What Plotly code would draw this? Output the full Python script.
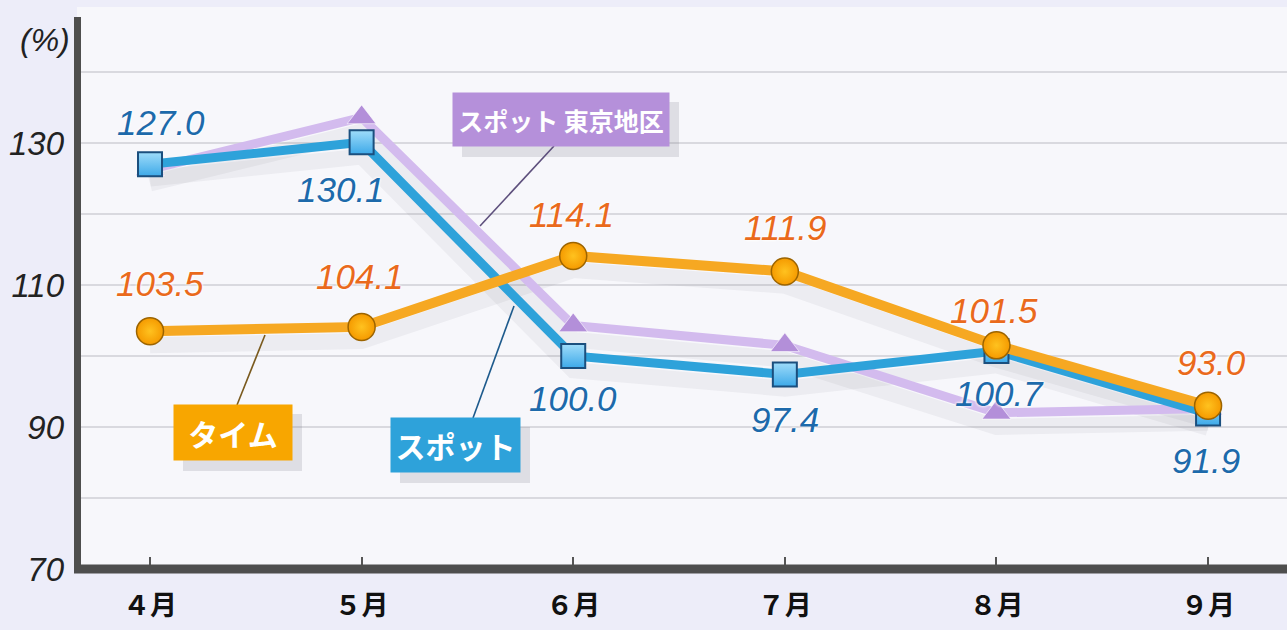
import plotly.graph_objects as go

# ---------------- data ----------------
months = ["４月", "５月", "６月", "７月", "８月", "９月"]
spot = [127.0, 130.1, 100.0, 97.4, 100.7, 91.9]
time_ = [103.5, 104.1, 114.1, 111.9, 101.5, 93.0]
spot_tokyo = [126.3, 133.6, 104.3, 101.5, 92.0, 92.6]

y_tickvals = [70, 80, 90, 100, 110, 120, 130, 140]
y_ticktext = ["70", "", "90", "", "110", "", "130", ""]

# label vertical offsets (px) relative to each point
spot_label_shift = [42, -47, -42, -45, -42, -47]
spot_label_xshift = [11, -21, 0, 0, 3, -2]
time_label_shift = [48, 50, 41, 44, 35, 43]
time_label_xshift = [10, -2, -2, 0, -2, 3]

# ---------------- colours / fonts ----------------
C_SPOT = "#2ea2da"
C_TIME = "#f6a822"
C_TOKYO = "#d3bbee"
C_TRI = "#b38fd9"
LBL_SPOT = "#1d6aab"
LBL_TIME = "#ea6a1c"
NUM_FONT = "Liberation Sans, Arial, sans-serif"
JP_FONT = "Noto Sans CJK JP, sans-serif"

# pixel helpers for layout decoration (plot area: x 77..1287, y 7..569)
def px(x):
    return (x - 77) / 1210.0

def py(y):
    return (569 - y) / 562.0

fig = go.Figure()

# soft drop shadows under the lines
for series in (spot_tokyo, spot, time_):
    fig.add_trace(go.Scatter(
        x=months, y=[v - 2.0 for v in series], mode="lines",
        line=dict(color="rgba(60,60,80,0.06)", width=16),
        hoverinfo="skip", showlegend=False))

fig.add_trace(go.Scatter(
    x=months, y=spot_tokyo, mode="lines+markers", name="スポット 東京地区",
    line=dict(color=C_TOKYO, width=9),
    marker=dict(symbol="triangle-up", size=25, color=C_TRI,
                line=dict(color="rgba(255,255,255,0.6)", width=1)),
    showlegend=False))

fig.add_trace(go.Scatter(
    x=months, y=spot, mode="lines+markers", name="スポット",
    line=dict(color=C_SPOT, width=9),
    marker=dict(symbol="square", size=24, color="#9fdcfa",
                gradient=dict(type="vertical", color="#3da9e8"),
                line=dict(color="#1b4f7e", width=2)),
    showlegend=False))

fig.add_trace(go.Scatter(
    x=months, y=time_, mode="lines+markers", name="タイム",
    line=dict(color=C_TIME, width=10),
    marker=dict(symbol="circle", size=27, color="#f59a00",
                gradient=dict(type="radial", color="#ffc21f"),
                line=dict(color="#9c6400", width=1.5)),
    showlegend=False))

annotations = []
for m, v, ys, xs in zip(months, spot, spot_label_shift, spot_label_xshift):
    annotations.append(dict(
        x=m, y=v, xref="x", yref="y", text=f"{v:.1f}", showarrow=False,
        yshift=ys, xshift=xs, xanchor="center", yanchor="middle",
        font=dict(family=NUM_FONT, size=35, color=LBL_SPOT, style="italic",
                  shadow="0 0 3px #ffffff, 0 0 3px #ffffff")))
for m, v, ys, xs in zip(months, time_, time_label_shift, time_label_xshift):
    annotations.append(dict(
        x=m, y=v, xref="x", yref="y", text=f"{v:.1f}", showarrow=False,
        yshift=ys, xshift=xs, xanchor="center", yanchor="middle",
        font=dict(family=NUM_FONT, size=35, color=LBL_TIME, style="italic",
                  shadow="0 0 3px #ffffff, 0 0 3px #ffffff")))

# (%) unit label
annotations.append(dict(
    x=px(45), y=py(40), xref="paper", yref="paper", text="(%)", showarrow=False,
    xanchor="center", yanchor="middle",
    font=dict(family=NUM_FONT, size=32, color="#222222", style="italic")))

# callout boxes
boxes = [
    ("スポット 東京地区", 561, 119.5, 216, 53, "#b590da", 25),
    ("タイム", 233, 432.5, 118, 55, "#f8a600", 30),
    ("スポット", 455.5, 445, 129, 54, "#2ea2da", 30),
]
shapes = []
for text, cx, cy, w, h, col, fs in boxes:
    shapes.append(dict(
        type="rect", xref="paper", yref="paper", layer="above",
        x0=px(cx - w / 2 + 9), x1=px(cx + w / 2 + 10),
        y0=py(cy + h / 2 + 11), y1=py(cy - h / 2 + 9),
        fillcolor="rgba(110,110,130,0.18)", line=dict(width=0)))
    annotations.append(dict(
        x=px(cx), y=py(cy), xref="paper", yref="paper", text=text,
        xanchor="center", yanchor="middle",
        showarrow=False, width=w - 4, height=h - 4, borderpad=2,
        bgcolor=col, align="center", valign="middle",
        font=dict(family=JP_FONT, size=fs, color="#ffffff", weight="bold")))

# leader lines
leaders = [
    ((237, 405), (265, 335), "#7a5a1e"),
    ((473, 418), (514, 306), "#1d5a8c"),
    ((554, 146), (480, 226), "#5d4f7c"),
]
for (x0, y0), (x1, y1), col in leaders:
    shapes.append(dict(type="line", xref="paper", yref="paper", layer="above",
                       x0=px(x0), y0=py(y0), x1=px(x1), y1=py(y1),
                       line=dict(color=col, width=1.6)))

# axis lines (thick dark)
shapes.append(dict(type="line", xref="paper", yref="paper", layer="above",
                   x0=px(77.5), x1=px(77.5), y0=py(573), y1=py(17),
                   line=dict(color="#4e4e4e", width=7)))
shapes.append(dict(type="line", xref="paper", yref="paper", layer="above",
                   x0=px(74), x1=1.0, y0=py(569), y1=py(569),
                   line=dict(color="#4e4e4e", width=9)))

fig.update_layout(
    width=1287, height=630,
    margin=dict(l=77, r=0, t=7, b=61, autoexpand=False),
    paper_bgcolor="#ededf9",
    plot_bgcolor="#f7f7fb",
    showlegend=False,
    annotations=annotations,
    shapes=shapes,
    xaxis=dict(
        type="category", range=[-0.345, 5.373], automargin=False,
        showgrid=False, zeroline=False, showline=False,
        ticks="inside", ticklen=12, tickwidth=2, tickcolor="#555555",
        ticklabelstandoff=18,
        tickfont=dict(family=JP_FONT, size=27, color="#111111", weight="bold"),
        fixedrange=True),
    yaxis=dict(
        range=[70, 70 + 562 / 7.1], automargin=False,
        tickvals=y_tickvals, ticktext=y_ticktext,
        showgrid=True, gridcolor="#d9d9df", gridwidth=2,
        zeroline=False, showline=False, ticks="",
        ticklabelstandoff=12,
        tickfont=dict(family=NUM_FONT, size=33, color="#222222", style="italic"),
        fixedrange=True),
)

fig.write_html(
    "out.html",
    config={"displayModeBar": False},
    post_script="document.body.style.margin='0';document.body.style.overflow='hidden';",
)
